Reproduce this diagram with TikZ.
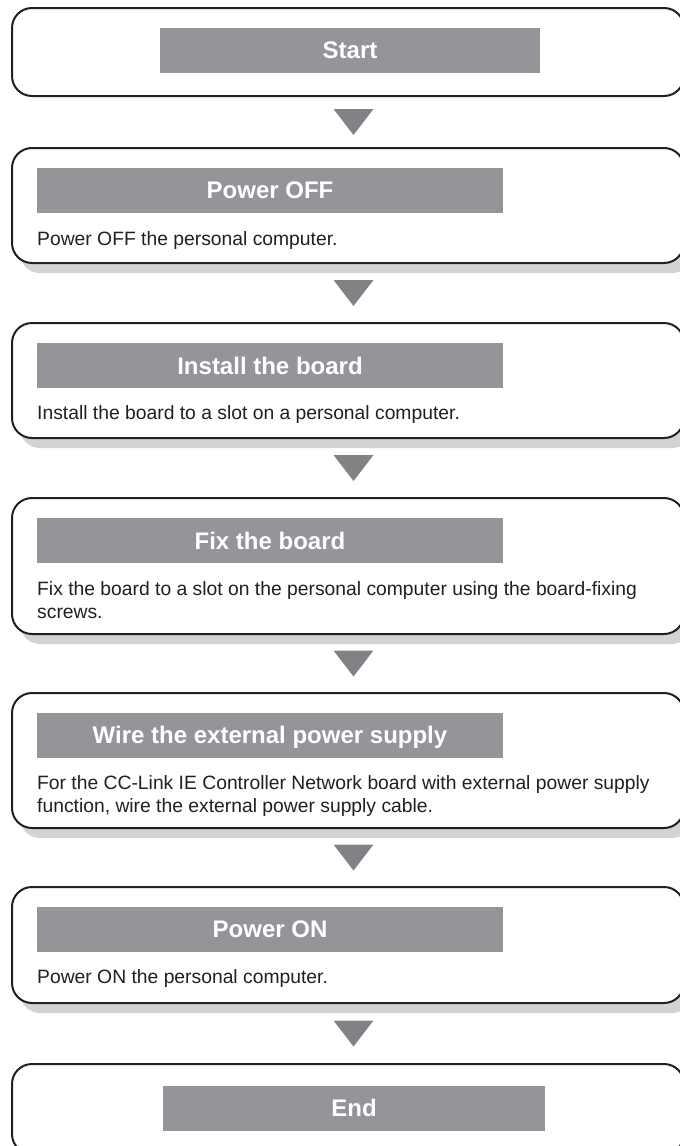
\documentclass[tikz,border=0pt]{standalone}
\usepackage{fontspec}
\setmainfont{Liberation Sans}
\usetikzlibrary{calc,shadows}
\definecolor{barg}{HTML}{939598}
\definecolor{trig}{HTML}{808285}
\definecolor{shad}{HTML}{D1D3D4}
\definecolor{ink}{HTML}{231F20}
\tikzset{
  stepbox/.style={draw=ink, line width=2pt, rounded corners=20pt, fill=white,
    minimum width=672pt, inner sep=0pt, anchor=north},
  shadowed/.style={drop shadow={shadow xshift=8pt, shadow yshift=-10pt, fill=shad, opacity=1}},
  bar/.style={fill=barg, inner sep=0pt, minimum height=45pt, text=white,
    text height=17pt, text depth=0pt,
    font=\fontsize{24}{28}\selectfont\bfseries},
  body/.style={inner sep=0pt, anchor=base west, text=ink, font=\fontsize{19.3}{23}\selectfont},
  tri/.style={fill=trig}
}
\begin{document}
\begin{tikzpicture}[x=1pt,y=-1pt]
\useasboundingbox (0,0) rectangle (680,1146);
\clip (0,0) rectangle (680,1146);
% boxes
\node[stepbox, minimum height=88pt] (b1) at (348,7) {};
\node[stepbox, shadowed, minimum height=115pt] (b2) at (348,147) {};
\node[stepbox, shadowed, minimum height=115pt] (b3) at (348,322) {};
\node[stepbox, shadowed, minimum height=136pt] (b4) at (348,497) {};
\node[stepbox, shadowed, minimum height=135pt] (b5) at (348,692) {};
\node[stepbox, shadowed, minimum height=116pt] (b6) at (348,886) {};
\node[stepbox, minimum height=90pt] (b7) at (348,1063) {};
% title bars
\node[bar, minimum width=380pt] (h1) at (350,50) {Start};
\node[bar, minimum width=466pt] (h2) at (270,190) {Power OFF};
\node[bar, minimum width=466pt] (h3) at (270,365.5) {Install the board};
\node[bar, minimum width=466pt] (h4) at (270,540.5) {Fix the board};
\node[bar, minimum width=466pt] (h5) at (270,735) {Wire the external power supply};
\node[bar, minimum width=466pt] (h6) at (270,929) {Power ON};
\node[bar, minimum width=382pt] (h7) at (354,1108) {End};
% body texts
\node[body] (t2) at (37,245) {Power OFF the personal computer.};
\node[body] (t3) at (37,419) {Install the board to a slot on a personal computer.};
\node[body] (t4) at (37,595) {Fix the board to a slot on the personal computer using the board-fixing};
\node[body] (t4b) at (37,618) {screws.};
\node[body] (t5) at (37,789) {For the CC-Link IE Controller Network board with external power supply};
\node[body] (t5b) at (37,812) {function, wire the external power supply cable.};
\node[body] (t6) at (37,983) {Power ON the personal computer.};
% arrows between steps
\foreach \u/\v in {b1/b2,b2/b3,b3/b4,b4/b5,b5/b6,b6/b7}{
  \coordinate (m) at ($(\u.south)!0.5!(\v.north)$);
  \fill[tri] ($(m)+(-14.5,-13)$) -- ($(m)+(25.5,-13)$) -- ($(m)+(5.5,13)$) -- cycle;
}
\end{tikzpicture}
\end{document}
